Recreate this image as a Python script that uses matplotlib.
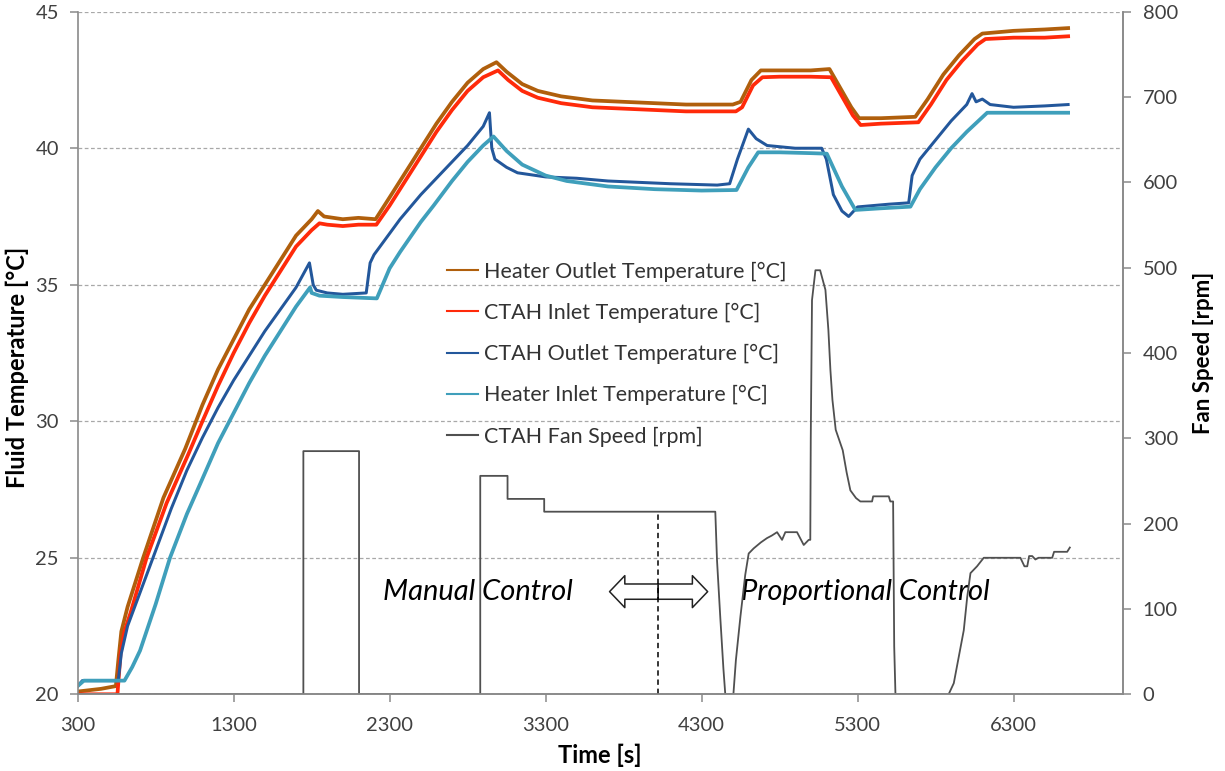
import matplotlib
matplotlib.use('Agg')
import matplotlib.pyplot as plt
from matplotlib.patches import FancyArrowPatch

plt.rcParams['font.family'] = ['Lato', 'DejaVu Sans']

# --- data ---
t_ho = [300, 450, 545, 560, 580, 620, 720, 850, 990, 1100, 1200, 1300, 1400, 1500, 1600, 1700, 1800, 1840,
        1880, 2000, 2100, 2210, 2300, 2400, 2500, 2600, 2700, 2800, 2900, 2985, 3050, 3150, 3250, 3400, 3600,
        3800, 4000, 4200, 4500, 4550, 4620, 4680, 4800, 5000, 5120, 5180, 5260, 5310, 5450, 5670, 5750, 5850,
        5950, 6050, 6100, 6300, 6500, 6650]
heater_out = [20.1, 20.2, 20.3, 21.2, 22.3, 23.2, 25.0, 27.2, 29.0, 30.6, 31.9, 33.0, 34.1, 35.0, 35.9, 36.8,
              37.4, 37.7, 37.5, 37.4, 37.45, 37.4, 38.2, 39.1, 40.0, 40.9, 41.7, 42.4, 42.9, 43.15, 42.8, 42.35,
              42.1, 41.9, 41.75, 41.7, 41.65, 41.6, 41.6, 41.7, 42.5, 42.85, 42.85, 42.85, 42.9, 42.3, 41.5, 41.1,
              41.1, 41.15, 41.8, 42.7, 43.4, 44.0, 44.2, 44.3, 44.35, 44.4]

t_ci = [300, 555, 575, 600, 640, 742, 870, 1010, 1100, 1200, 1300, 1400, 1500, 1600, 1700, 1800, 1850, 1900,
        2000, 2100, 2215, 2300, 2400, 2500, 2600, 2700, 2800, 2900, 2995, 3060, 3150, 3250, 3400, 3600, 3800,
        4000, 4200, 4520, 4560, 4630, 4690, 4800, 5000, 5130, 5190, 5270, 5320, 5450, 5690, 5770, 5870, 5970,
        6070, 6120, 6300, 6500, 6650]
ctah_in = [20.0, 20.0, 21.5, 22.3, 23.0, 25.0, 27.0, 28.8, 30.0, 31.3, 32.5, 33.6, 34.6, 35.5, 36.4, 37.0,
           37.25, 37.2, 37.15, 37.2, 37.2, 37.9, 38.8, 39.7, 40.6, 41.4, 42.1, 42.6, 42.85, 42.5, 42.1, 41.85,
           41.65, 41.5, 41.45, 41.4, 41.35, 41.35, 41.5, 42.3, 42.6, 42.62, 42.62, 42.6, 42.0, 41.2, 40.85, 40.9,
           40.95, 41.6, 42.5, 43.2, 43.8, 44.0, 44.05, 44.05, 44.1]

t_co = [300, 330, 560, 580, 620, 783, 900, 1000, 1100, 1200, 1300, 1400, 1500, 1600, 1700, 1786, 1810, 1830,
        1900, 2000, 2150, 2175, 2200, 2367, 2500, 2600, 2700, 2800, 2900, 2940, 2955, 2975, 3050, 3120, 3300,
        3500, 3700, 3900, 4100, 4400, 4480, 4530, 4600, 4650, 4720, 4900, 5070, 5100, 5145, 5200, 5243, 5300,
        5400, 5500, 5628, 5650, 5700, 5800, 5900, 6000, 6034, 6060, 6100, 6150, 6300, 6500, 6650]
ctah_out = [20.3, 20.5, 20.5, 21.5, 22.5, 25.0, 26.8, 28.2, 29.4, 30.5, 31.5, 32.4, 33.3, 34.1, 34.9, 35.8,
            35.0, 34.8, 34.7, 34.65, 34.7, 35.8, 36.1, 37.4, 38.3, 38.9, 39.5, 40.1, 40.8, 41.3, 40.0, 39.6,
            39.3, 39.1, 38.95, 38.9, 38.8, 38.75, 38.7, 38.65, 38.7, 39.6, 40.7, 40.35, 40.1, 40.0, 40.0, 39.6,
            38.3, 37.7, 37.5, 37.85, 37.9, 37.95, 38.0, 39.0, 39.6, 40.3, 41.0, 41.6, 42.0, 41.7, 41.8, 41.6,
            41.5, 41.55, 41.6]

t_hi = [300, 340, 600, 650, 700, 800, 892, 1000, 1085, 1200, 1300, 1400, 1500, 1600, 1700, 1790, 1800, 1850,
        2000, 2218, 2300, 2367, 2500, 2582, 2700, 2800, 2900, 2966, 3050, 3150, 3300, 3436, 3700, 4000, 4300,
        4524, 4600, 4663, 4800, 5000, 5103, 5200, 5286, 5450, 5639, 5700, 5800, 5900, 6000, 6131, 6300, 6500,
        6650]
heater_in = [20.3, 20.5, 20.5, 21.0, 21.6, 23.3, 25.0, 26.6, 27.7, 29.2, 30.3, 31.4, 32.4, 33.3, 34.2, 34.9,
             34.7, 34.6, 34.55, 34.5, 35.6, 36.2, 37.3, 37.9, 38.8, 39.5, 40.1, 40.43, 39.9, 39.4, 39.0, 38.8,
             38.6, 38.5, 38.45, 38.47, 39.3, 39.85, 39.85, 39.82, 39.8, 38.6, 37.74, 37.8, 37.86, 38.5, 39.3,
             40.0, 40.6, 41.3, 41.3, 41.3, 41.3]

t_fan = [300, 1747, 1747, 2104, 2104, 2881, 2881, 3056, 3056, 3291, 3291, 4388, 4399, 4420, 4440, 4452, 4504,
         4520, 4549, 4580, 4602, 4634, 4680, 4719, 4750, 4784, 4816, 4837, 4912, 4955, 4987, 4997, 5000, 5008,
         5030, 5060, 5094, 5113, 5126, 5139, 5160, 5205, 5230, 5254, 5290, 5318, 5393, 5400, 5500, 5510, 5528,
         5535, 5543, 5884, 5917, 5950, 5981, 6003, 6024, 6066, 6109, 6344, 6370, 6388, 6400, 6420, 6440, 6460,
         6548, 6560, 6644, 6661]
fan_speed = [0, 0, 285, 285, 0, 0, 256, 256, 229, 229, 214, 214, 157, 90, 30, 0, 0, 40, 91, 140, 165, 171, 178,
             183, 186, 190, 181, 190, 190, 175, 181, 181, 300, 462, 497, 497, 474, 427, 380, 345, 310, 286, 260,
             239, 230, 226, 226, 232, 232, 226, 226, 56, 0, 0, 13, 45, 75, 114, 142, 150, 160, 160, 150, 150,
             162, 162, 158, 160, 160, 167, 167, 172]

labels = ['Heater Outlet Temperature [°C]', 'CTAH Inlet Temperature [°C]',
          'CTAH Outlet Temperature [°C]', 'Heater Inlet Temperature [°C]', 'CTAH Fan Speed [rpm]']
colors = ['#b05f0c', '#ff2a0a', '#23579b', '#3f9fbb', '#505050']

x_ticks = [300, 1300, 2300, 3300, 4300, 5300, 6300]
switch_t = 4022       # manual -> proportional switch
switch_rpm = 214

fig = plt.figure(figsize=(12.25, 7.71), dpi=100)
ax = fig.add_axes([0.0634, 0.0995, 0.8531, 0.8853])
ax2 = ax.twinx()

lw = 2.7
h1, = ax.plot(t_ho, heater_out, color=colors[0], lw=lw, label=labels[0])
h2, = ax.plot(t_ci, ctah_in, color=colors[1], lw=lw, label=labels[1])
h3, = ax.plot(t_co, ctah_out, color=colors[2], lw=lw * 0.8, label=labels[2])
h4, = ax.plot(t_hi, heater_in, color=colors[3], lw=lw, label=labels[3])
h5, = ax2.plot(t_fan, fan_speed, color=colors[4], lw=1.3, label=labels[4])

ax2.plot([switch_t, switch_t], [0, switch_rpm], color='black', lw=1.1, ls=(0, (3.5, 2.5)))

ax.set_xlim(300, 7000)
ax.set_ylim(20, 45)
ax2.set_ylim(0, 800)
ax.set_xticks(x_ticks)
ax.set_yticks([20, 25, 30, 35, 40, 45])
ax2.set_yticks(range(0, 801, 100))

ax.yaxis.grid(True, ls=(0, (3, 2)), color='#a8a8a8', lw=0.9)
ax.set_axisbelow(True)

spine_c = '#8a8a8a'
for a in (ax, ax2):
    a.spines['top'].set_visible(False)
    for s in ('left', 'right', 'bottom'):
        a.spines[s].set_color(spine_c)
        a.spines[s].set_linewidth(1.2)
    a.tick_params(colors=spine_c, labelcolor='#404040', labelsize=14.5, length=6, width=1.1)
ax2.spines['left'].set_visible(False)
ax.tick_params(axis='x', pad=10)
ax.tick_params(axis='y', pad=7.5)
ax2.tick_params(axis='y', pad=8.5)

ax.set_xlabel('Time [s]', fontsize=17, fontweight='bold', labelpad=7)
ax.set_ylabel('Fluid Temperature [°C]', fontsize=17, fontweight='bold')
ax.yaxis.set_label_coords(-0.047, 0.4795)
ax2.set_ylabel('Fan Speed [rpm]', fontsize=16, fontweight='bold', labelpad=11)

ax.text(2868, 23.76, 'Manual Control', fontsize=21, style='italic', ha='center', va='center')
ax.text(5347, 23.76, 'Proportional Control', fontsize=21, style='italic', ha='center', va='center')

arrow_y = 23.76
for end in (3710, 4339):
    ax.add_patch(FancyArrowPatch((switch_t, arrow_y), (end, arrow_y),
                                 arrowstyle='simple,head_length=0.55,head_width=1.15,tail_width=0.55',
                                 mutation_scale=20, fc='white', ec='#222222', lw=1.1,
                                 shrinkA=0, shrinkB=0, zorder=5))

leg = ax2.legend(handles=[h1, h2, h3, h4, h5], loc='upper left', bbox_to_anchor=(0.353, 0.634),
                 frameon=False, fontsize=15.5, handlelength=1.45, handletextpad=0.3,
                 labelspacing=0.98, borderpad=0, borderaxespad=0)
for line in leg.get_lines():
    line.set_linewidth(1.5)
for txt in leg.get_texts():
    txt.set_color('#333333')

fig.savefig('out.png', dpi=100)
